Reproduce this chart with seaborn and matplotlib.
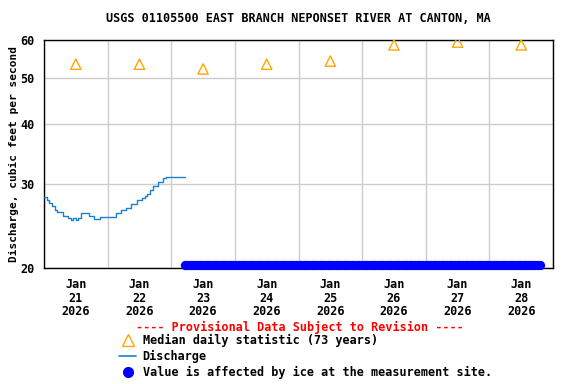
import pandas as pd
import numpy as np
import matplotlib
matplotlib.use('Agg')
import matplotlib.pyplot as plt
import matplotlib.dates as mdates
from matplotlib.lines import Line2D
from matplotlib.ticker import FixedLocator, FixedFormatter, NullLocator
import seaborn as sns

# Data
title = 'USGS 01105500 EAST BRANCH NEPONSET RIVER AT CANTON, MA'

median_days = pd.date_range('2026-01-21 12:00', periods=8, freq='D')
median_values = [53.4, 53.4, 52.2, 53.4, 54.2, 58.6, 59.4, 58.6]

# hourly discharge starting 2026-01-21 00:00 (cfs)
discharge_values = [28.2, 27.8, 27.3, 26.9, 26.5, 26.2, 26.2, 25.7, 25.7, 25.4,
                    25.2, 25.4, 25.2, 25.4, 26.1, 26.1, 26.1, 25.7, 25.7, 25.3,
                    25.3, 25.6, 25.6, 25.6, 25.6, 25.6, 25.6, 26.1, 26.1, 26.4,
                    26.4, 26.7, 26.7, 27.2, 27.2, 27.7, 27.7, 28.0, 28.3, 28.6,
                    29.1, 29.7, 29.7, 30.3, 30.3, 30.8, 31.0, 31.0, 31.0, 31.0,
                    31.0, 31.0, 31.0, 31.0]
discharge_times = pd.date_range('2026-01-21 00:00', periods=len(discharge_values), freq='h')

# ice-affected period, plotted on the bottom edge
ice_times = pd.date_range('2026-01-23 05:00', '2026-01-28 19:00', freq='h')
ice_level = 20.3
ice_values = [ice_level] * len(ice_times)

y_ticks = [20, 30, 40, 50, 60]
x_tick_labels = [f'Jan\n{d.day}\n{d.year}' for d in median_days]

median_color = '#FFA500'
discharge_color = '#1A80D0'
ice_color = '#0000FF'

sns.set_theme(style='white')
FS = 8.5
plt.rcParams['font.family'] = ['DejaVu Sans Mono']
plt.rcParams['font.weight'] = 'bold'
plt.rcParams.update({'font.size': FS, 'axes.labelsize': 8, 'xtick.labelsize': FS,
                     'ytick.labelsize': FS, 'legend.fontsize': FS, 'axes.labelweight': 'bold',
                     'text.color': 'black', 'axes.labelcolor': 'black',
                     'xtick.color': 'black', 'ytick.color': 'black'})

fig = plt.figure(figsize=(5.76, 3.84), dpi=100)
ax = fig.add_axes([44 / 576, 1 - 268 / 384, 509 / 576, 228 / 384])

sns.lineplot(x=discharge_times, y=discharge_values, ax=ax, color=discharge_color,
             linewidth=1.0, drawstyle='steps-post', zorder=3)
sns.scatterplot(x=median_days, y=median_values, ax=ax, marker='^', s=55,
                facecolors='none', edgecolor=median_color, linewidth=1.0, zorder=4)
sns.scatterplot(x=ice_times, y=ice_values, ax=ax, marker='o', s=45,
                color=ice_color, edgecolor=ice_color, linewidth=0, zorder=5, clip_on=False)

ax.set_yscale('log')
ax.set_ylim(20, 60)
ax.yaxis.set_major_locator(FixedLocator(y_ticks))
ax.yaxis.set_major_formatter(FixedFormatter([str(v) for v in y_ticks]))
ax.yaxis.set_minor_locator(NullLocator())

ax.set_xlim(pd.Timestamp('2026-01-21'), pd.Timestamp('2026-01-29'))
ax.set_xticks(median_days)
ax.set_xticklabels(x_tick_labels, linespacing=1.08)
ax.xaxis.set_minor_locator(mdates.DayLocator())

ax.grid(True, axis='y', which='major', color='#CCCCCC', linewidth=1)
ax.grid(True, axis='x', which='minor', color='#CCCCCC', linewidth=1)
ax.set_axisbelow(True)

ax.tick_params(axis='both', which='both', length=0)
ax.tick_params(axis='y', pad=7)
ax.tick_params(axis='x', pad=7)
for side in ax.spines.values():
    side.set_color('black')
    side.set_linewidth(1)

ax.set_xlabel('')
ax.set_ylabel('Discharge, cubic feet per second', labelpad=1)
fig.text(298 / 576, 1 - 19 / 384, title, ha='center', va='center')

fig.text(300 / 576, 1 - 327 / 384, '---- Provisional Data Subject to Revision ----',
         color='red', ha='center', va='center')

handles = [
    Line2D([], [], linestyle='none', marker='^', markersize=8, markerfacecolor='none',
           markeredgecolor=median_color, markeredgewidth=1.0),
    Line2D([], [], color=discharge_color, linewidth=1.2),
    Line2D([], [], linestyle='none', marker='o', markersize=7, color=ice_color),
]
labels = ['Median daily statistic (73 years)', 'Discharge',
          'Value is affected by ice at the measurement site.']
fig.legend(handles, labels, loc='upper left', bbox_to_anchor=(119 / 576, 1 - 334 / 384),
           frameon=False, handlelength=1.45, handletextpad=0.55, labelspacing=0.25,
           borderpad=0, borderaxespad=0)

fig.savefig('out.png', dpi=100)
